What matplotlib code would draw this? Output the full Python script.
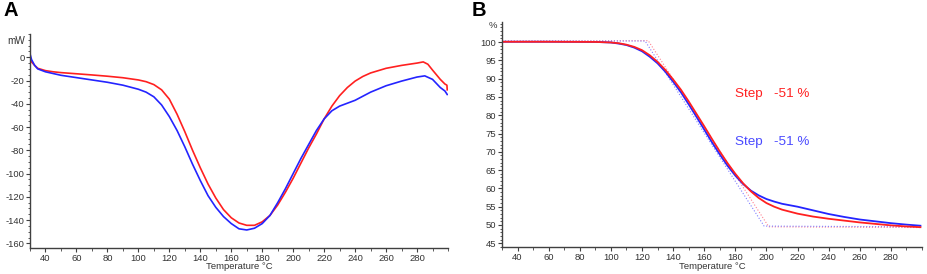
import matplotlib
matplotlib.use("Agg")
import matplotlib.pyplot as plt
from matplotlib.ticker import MultipleLocator, FixedLocator

plt.rcParams['font.family'] = ['Liberation Sans', 'DejaVu Sans']
plt.rcParams['axes.unicode_minus'] = False

# ---------------- Panel A: DSC ----------------
dsc_T_red = [30, 31, 33, 35, 40, 45, 50, 60, 70, 80, 90, 100, 105, 110, 115, 120, 125, 130, 135,
             140, 145, 150, 155, 160, 165, 170, 175, 180, 185, 190, 195, 200, 205, 210, 215, 220,
             225, 230, 235, 240, 245, 250, 260, 270, 280, 284, 287, 290, 295, 298, 299.3, 299.5]
dsc_red = [-1, -4, -7, -9.5, -11.5, -12.5, -13.2, -14.2, -15.2, -16.3, -17.6, -19.5, -21, -23.5, -28,
           -36, -49, -64, -80, -95, -109, -121, -131, -138, -142.5, -144.5, -144.5, -141.5, -136,
           -127, -116, -104, -91, -78, -66, -53, -42, -33, -26, -20.5, -16.5, -13.5, -9.5, -7, -5,
           -4, -6, -11, -19, -23, -24, -28]

dsc_T_blue = [30, 31, 33, 35, 40, 45, 50, 60, 70, 80, 90, 100, 105, 110, 115, 120, 125, 130, 135,
              140, 145, 150, 155, 160, 165, 170, 175, 180, 185, 190, 195, 200, 205, 210, 215, 220,
              225, 230, 235, 240, 245, 250, 260, 270, 280, 285, 290, 295, 298, 299.5]
dsc_blue = [3, -2, -7, -10, -12.5, -14, -15.5, -17.5, -19.5, -21.5, -24, -27.5, -30, -34, -41, -51,
            -63, -77, -92, -106, -119, -129, -137, -143, -147.5, -148.5, -147, -143, -136, -125,
            -113, -100, -87, -75, -63, -53, -46, -42, -39.5, -37, -33.5, -30, -24.5, -20.5, -17,
            -16, -19, -26, -29, -32]

# ---------------- Panel B: TGA ----------------
tga_T = [30, 60, 90, 100, 105, 110, 115, 120, 125, 130, 135, 140, 145, 150, 155, 160, 165, 170,
         175, 180, 185, 190, 195, 200, 205, 210, 220, 230, 240, 250, 260, 270, 280, 290, 299]
tga_red = [100.1, 100.1, 100.05, 99.9, 99.7, 99.3, 98.7, 97.8, 96.4, 94.6, 92.4, 89.8, 87.0, 83.8,
           80.4, 77.0, 73.5, 70.1, 66.9, 64.0, 61.4, 59.2, 57.4, 56.0, 55.0, 54.2, 53.1, 52.3,
           51.7, 51.2, 50.7, 50.3, 49.9, 49.6, 49.4]
tga_blue = [100.1, 100.1, 100.05, 99.9, 99.6, 99.2, 98.5, 97.5, 96.0, 94.2, 91.9, 89.2, 86.3, 83.0,
            79.6, 76.1, 72.6, 69.3, 66.2, 63.5, 61.2, 59.4, 58.1, 57.1, 56.4, 55.8, 55.0, 54.0,
            53.0, 52.2, 51.5, 51.0, 50.5, 50.1, 49.8]

tan_T_red = [30, 124, 201.5, 300]
tan_red = [100.3, 100.4, 49.5, 49.3]
tan_T_blue = [30, 122, 198.5, 300]
tan_blue = [100.3, 100.3, 49.7, 49.5]

step_labels = ["Step   -51 %", "Step   -51 %"]

xticks = [40, 60, 80, 100, 120, 140, 160, 180, 200, 220, 240, 260, 280]
yticks_A = [0, -20, -40, -60, -80, -100, -120, -140, -160]
yticks_B = [100, 95, 90, 85, 80, 75, 70, 65, 60, 55, 50, 45]

RED = '#ff2020'
BLUE = '#2424ff'
AXC = '#404040'
TXT = '#333333'

fig = plt.figure(figsize=(9.27, 2.74), dpi=100)
axA = fig.add_axes([30/927, 26/274, 418/927, 214/274])
axB = fig.add_axes([502/927, 26.7/274, 420/927, 225.3/274])

def style(ax, xlabel_y):
    for s in ['top', 'right']:
        ax.spines[s].set_visible(False)
    for s in ['left', 'bottom']:
        ax.spines[s].set_color(AXC)
        ax.spines[s].set_linewidth(1.0)
    ax.tick_params(which='major', length=3, width=0.8, color=AXC, labelsize=6.8,
                   labelcolor=TXT, pad=1.0)
    ax.tick_params(which='minor', length=1.8, width=0.6, color=AXC)
    ax.xaxis.set_major_locator(FixedLocator(xticks))
    ax.xaxis.set_minor_locator(MultipleLocator(10))
    ax.set_xlim(30, 300)
    ax.text(0.5, xlabel_y, 'Temperature °C', transform=ax.transAxes, ha='center',
            va='center', fontsize=6.8, color=TXT)

style(axA, -0.087)
axA.plot(dsc_T_red, dsc_red, color=RED, lw=1.2)
axA.plot(dsc_T_blue, dsc_blue, color=BLUE, lw=1.2)
axA.set_ylim(-164, 20)
axA.yaxis.set_major_locator(FixedLocator(yticks_A))
axA.yaxis.set_minor_locator(MultipleLocator(5))
axA.text(-0.012, 0.967, 'mW', transform=axA.transAxes, ha='right', va='center',
         fontsize=7.2, color=TXT)

style(axB, -0.085)
axB.plot(tan_T_red, tan_red, color='#ff8090', lw=0.8, ls=':')
axB.plot(tan_T_blue, tan_blue, color='#8080ff', lw=0.8, ls=':')
axB.plot(tga_T, tga_blue, color=BLUE, lw=1.3)
axB.plot(tga_T, tga_red, color=RED, lw=1.3)
axB.set_ylim(43.9, 105.5)
axB.yaxis.set_major_locator(FixedLocator(yticks_B))
axB.yaxis.set_minor_locator(MultipleLocator(1))
axB.text(-0.012, 0.984, '%', transform=axB.transAxes, ha='right', va='center',
         fontsize=6.8, color=TXT)
axB.text(180, 85.8, step_labels[0], color=RED, fontsize=9.7, ha='left', va='center')
axB.text(180, 72.6, step_labels[1], color='#4a4aff', fontsize=9.7, ha='left', va='center')

fig.text(3/927, 1 - 10/274, 'A', fontsize=14.5, fontweight='bold', ha='left', va='center')
fig.text(472/927, 1 - 10/274, 'B', fontsize=14.5, fontweight='bold', ha='left', va='center')

fig.savefig('out.png', dpi=100)
